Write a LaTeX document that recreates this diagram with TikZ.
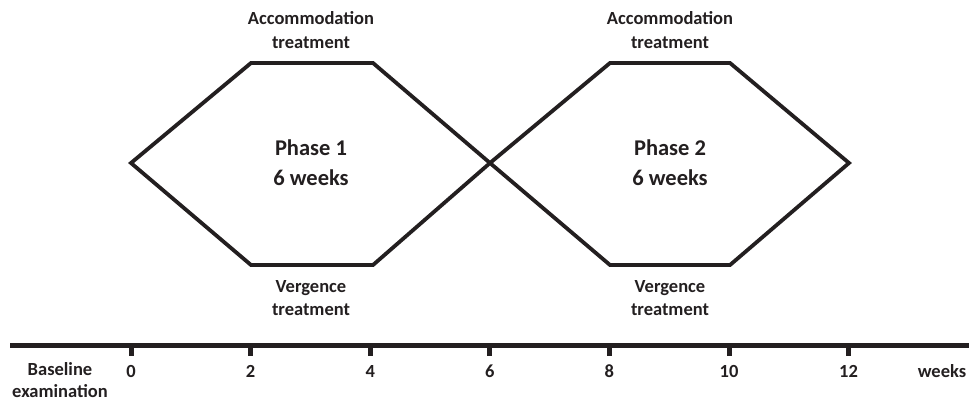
\documentclass[tikz,border=0pt]{standalone}
\usepackage{fontspec}
\setmainfont{Carlito}
\usetikzlibrary{positioning}
\definecolor{ink}{HTML}{231F20}

\begin{document}
\begin{tikzpicture}[
  x=1pt, y=-1pt,
  font=\bfseries\fontsize{18.5}{23.5}\selectfont,
  text=ink,
  hexline/.style={draw=ink, line width=3.8pt, line join=miter},
  axisline/.style={draw=ink, line width=5pt},
  tickmark/.style={draw=ink, line width=5pt},
  lbl/.style={align=center, inner sep=0pt},
  phase/.style={lbl, font=\bfseries\fontsize{22.5}{30}\selectfont}
]
\useasboundingbox (0,0) rectangle (969,402);

% hexagon corners
\coordinate (l1) at (131,163);
\coordinate (tl1) at (251,63);
\coordinate (tr1) at (373,63);
\coordinate (bl1) at (251,265);
\coordinate (br1) at (373,265);
\coordinate (mid) at (490,163);
\coordinate (tl2) at (610,63);
\coordinate (tr2) at (730,63);
\coordinate (bl2) at (610,265);
\coordinate (br2) at (730,265);
\coordinate (r2) at (849,163);

\draw[hexline] (l1) -- (tl1) -- (tr1) -- (mid) -- (br1) -- (bl1) -- cycle;
\draw[hexline] (mid) -- (tl2) -- (tr2) -- (r2) -- (br2) -- (bl2) -- cycle;

\node[lbl] (acc1) at (311,30) {Accommodation\\treatment};
\node[lbl] (acc2) at (670,30) {Accommodation\\treatment};
\node[phase] (ph1) at (311,163) {Phase 1\\6 weeks};
\node[phase] (ph2) at (670,163) {Phase 2\\6 weeks};
\node[lbl] (ver1) at (311,298) {Vergence\\treatment};
\node[lbl] (ver2) at (670,298) {Vergence\\treatment};

% time axis
\coordinate (axl) at (10,345);
\coordinate (axr) at (969,345);
\draw[axisline] (axl) -- (axr);
\foreach \w in {0,2,...,12} {
  \coordinate (t\w) at ({131+\w*59.8},345);
  \node[lbl] (w\w) at ({131+\w*59.8},371) {\w};
  \draw[tickmark] (t\w) -- ++(0,11);
}
\node[lbl, font=\bfseries\fontsize{18.5}{21.5}\selectfont] (base) at (60,380) {Baseline\\examination};
\node[lbl] (unit) at (942,371) {weeks};
\end{tikzpicture}
\end{document}
